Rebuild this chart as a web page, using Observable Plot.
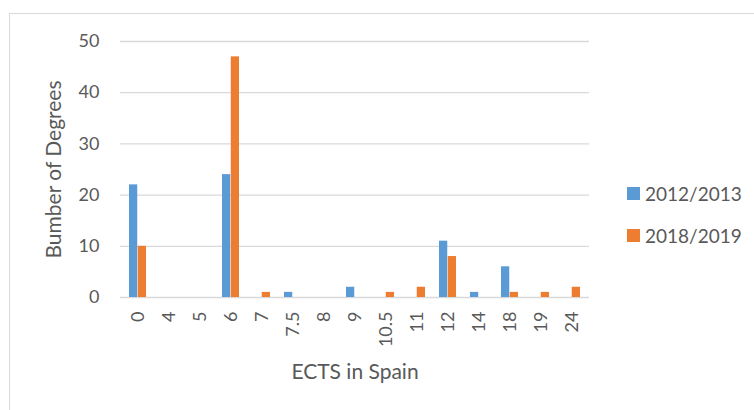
<!DOCTYPE html>
<html>
<head>
<meta charset="utf-8">
<script src="https://cdn.jsdelivr.net/npm/d3@7"></script>
<script src="https://cdn.jsdelivr.net/npm/@observablehq/plot@0.6"></script>
<style>
  html, body { margin: 0; padding: 0; background: #fff; }
  #wrap { position: relative; width: 754px; height: 410px; overflow: hidden; font-family: Lato, "Open Sans", sans-serif; }
  #frame { position: absolute; left: 9px; top: 13px; width: 800px; height: 420px; border: 1.5px solid #d9d9d9; box-sizing: border-box; }
  #chart { position: absolute; left: 0; top: 0; }
  #legend { position: absolute; left: 627px; top: 181px; color: #595959; font-size: 19px; }
  #legend .item { display: flex; align-items: center; height: 24px; margin-bottom: 18px; }
  #legend .sw { width: 13px; height: 13px; margin-right: 5px; }
</style>
</head>
<body>
<div id="wrap">
  <div id="frame"></div>
  <div id="chart"></div>
  <div id="legend"></div>
</div>
<script>
const categories = ["0","4","5","6","7","7.5","8","9","10.5","11","12","14","18","19","24"];
const seriesNames = ["2012/2013","2018/2019"];
const values2012 = [22,0,0,24,0,1,0,2,0,0,11,1,6,0,0];
const values2018 = [10,0,0,47,1,0,0,0,1,2,8,0,1,1,2];
const yTicks = [0,10,20,30,40,50];
const colors = ["#5b9bd5","#ed7d31"];

const data2012 = categories.map((c, i) => ({ects: c, value: values2012[i], series: seriesNames[0]}));
const data2018 = categories.map((c, i) => ({ects: c, value: values2018[i], series: seriesNames[1]}));

const W = 754, H = 410, mL = 120, mR = 165;
const step = (W - mL - mR) / categories.length;
const paddingInner = 0.44;
const half = step * (1 - paddingInner) / 2;

const chart = Plot.plot({
  width: W,
  height: H,
  marginTop: 41,
  marginBottom: 113,
  marginLeft: mL,
  marginRight: mR,
  style: { fontFamily: "Lato, 'Open Sans', sans-serif", fontSize: "18px", color: "#595959", background: "transparent", overflow: "visible" },
  x: { domain: categories, paddingInner: paddingInner, paddingOuter: paddingInner / 2, tickSize: 0, tickPadding: 14, tickRotate: -90, label: "ECTS in Spain", labelAnchor: "center", labelOffset: 81 },
  y: { domain: [0, 50], ticks: yTicks, tickSize: 0, tickPadding: 21, label: "Bumber of Degrees", labelAnchor: "center", labelOffset: 74, labelArrow: "none" },
  color: { domain: seriesNames, range: colors },
  marks: [
    Plot.ruleY(yTicks, { stroke: "#d9d9d9", strokeWidth: 1.3 }),
    Plot.barY(data2012, { x: "ects", y: "value", fill: "series", insetRight: half }),
    Plot.barY(data2018, { x: "ects", y: "value", fill: "series", insetLeft: half })
  ]
});
d3.select(chart).selectAll("text")
  .filter(function() { return this.textContent === "ECTS in Spain" || this.textContent === "Bumber of Degrees"; })
  .style("font-size", "21px");
document.getElementById("chart").appendChild(chart);

const legend = document.getElementById("legend");
seriesNames.forEach((s, i) => {
  const item = document.createElement("div");
  item.className = "item";
  const sw = document.createElement("span");
  sw.className = "sw";
  sw.style.background = colors[i];
  const t = document.createElement("span");
  t.textContent = s;
  item.appendChild(sw);
  item.appendChild(t);
  legend.appendChild(item);
});
</script>
</body>
</html>
